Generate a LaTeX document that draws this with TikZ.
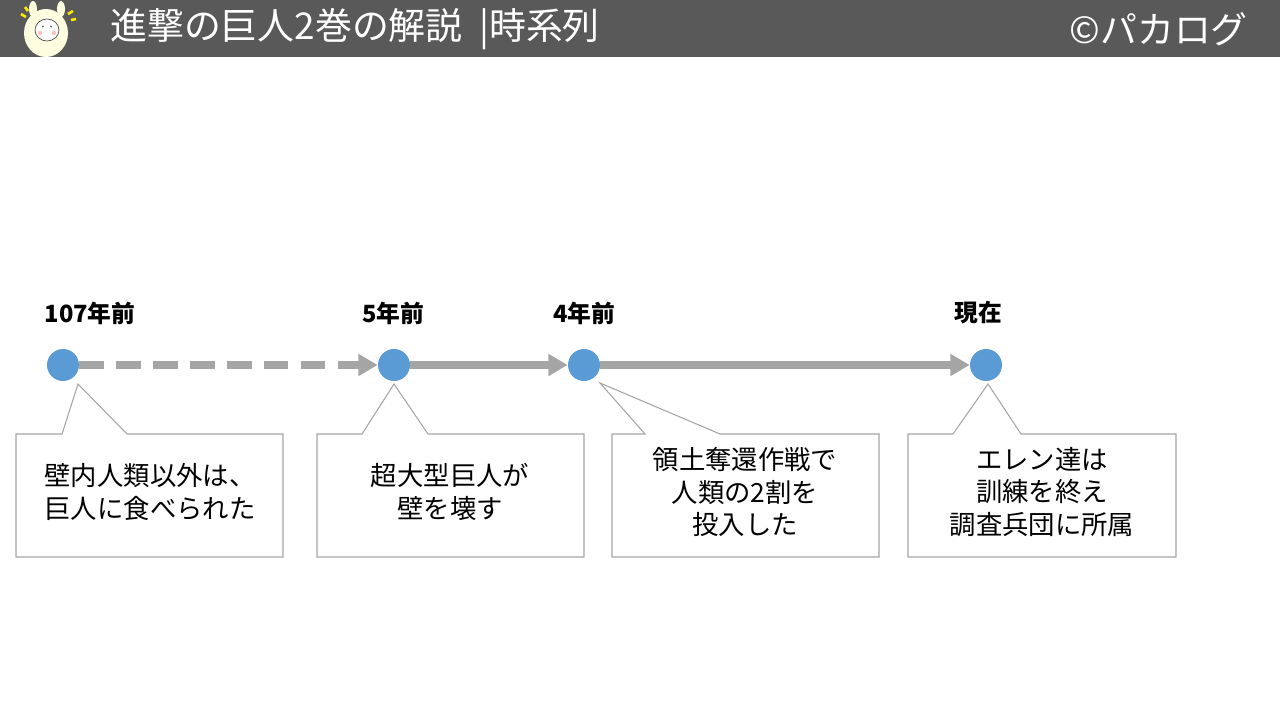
\documentclass[tikz,border=0pt]{standalone}
\usepackage{fontspec}
\setmainfont{Noto Sans CJK JP}
\usetikzlibrary{arrows.meta, calc, positioning}
\definecolor{barGray}{HTML}{595959}
\definecolor{lineGray}{HTML}{A5A5A5}
\definecolor{dotBlue}{HTML}{5B9BD5}
\begin{document}
\begin{tikzpicture}
  [x=0.02cm, y=-0.02cm,
   dot/.style={circle, fill=dotBlue, minimum size=0.64cm, inner sep=0pt},
   year/.style={font=\fontsize{13.5}{16}\selectfont\bfseries},
   callout/.style={draw=lineGray, fill=white, line width=0.6pt},
   note/.style={align=center, font=\fontsize{15}{18.5}\selectfont},
   tline/.style={draw=lineGray, line width=4.5pt, -{Triangle[length=11pt, width=12pt]}}]
  \useasboundingbox (0,0) rectangle (1280,720);
  % header
  \fill[barGray] (0,0) rectangle (1280,57);
  \node[anchor=west, text=white, font=\fontsize{21}{24}\selectfont] (title) at (104,29) {進撃の巨人2巻の解説\ \ |時系列};
  \node[anchor=east, text=white, font=\fontsize{21}{24}\selectfont] (brand) at (1254,29) {©パカログ};
  % alpaca
  \fill[white!88!yellow] (46,33) ellipse (22 and 24);
  \fill[white!88!yellow] (33,9) ellipse (4 and 8);
  \fill[white!88!yellow] (61,9) ellipse (4 and 8);
  \draw[black!70, fill=white] (47,30) ellipse (12 and 11);
  \fill[pink] (40,33) circle (2.2) (54,33) circle (2.2);
  \draw[black!70] (42,27)--(44,26) (50,26)--(52,27);
  \draw[yellow!90!orange, line width=1.5pt] (21,14)--(26,17) (25,7)--(28,11) (68,14)--(73,11) (71,20)--(76,19);
\node[dot] (d107) at (63,365) {};
  \node[dot] (d5) at (394,365) {};
  \node[dot] (d4) at (584,365) {};
  \node[dot] (dnow) at (986,365) {};
  \node[year] (y107) at (90,313) {107年前};
  \node[year] (y5) at (393,313) {5年前};
  \node[year] (y4) at (584,313) {4年前};
  \node[year] (ynow) at (978,313) {現在};
  % arrows
  \draw[tline, dash pattern=on 14pt off 7pt] (d107) -- (d5);
  \draw[tline] (d5) -- (d4);
  \draw[tline] (d4) -- (dnow);
  % callouts
  \draw[callout] (16,434) -- (62,434) -- (78,384) -- (127,434) -- (283,434) -- (283,557) -- (16,557) -- cycle;
  \draw[callout] (317,434) -- (362,434) -- (394,384) -- (428,434) -- (584,434) -- (584,557) -- (317,557) -- cycle;
  \draw[callout] (612,434) -- (645,434) -- (600,383) -- (720,434) -- (879,434) -- (879,557) -- (612,557) -- cycle;
  \draw[callout] (908,434) -- (953,434) -- (988,384) -- (1021,434) -- (1176,434) -- (1176,557) -- (908,557) -- cycle;
  \node[note] (n107) at (150,492) {壁内人類以外は、\\巨人に食べられた};
  \node[note] (n5) at (450,492) {超大型巨人が\\壁を壊す};
  \node[note] (n4) at (745,492) {領土奪還作戦で\\人類の2割を\\投入した};
  \node[note] (nnow) at (1042,492) {エレン達は\\訓練を終え\\調査兵団に所属};
\end{tikzpicture}
\end{document}
